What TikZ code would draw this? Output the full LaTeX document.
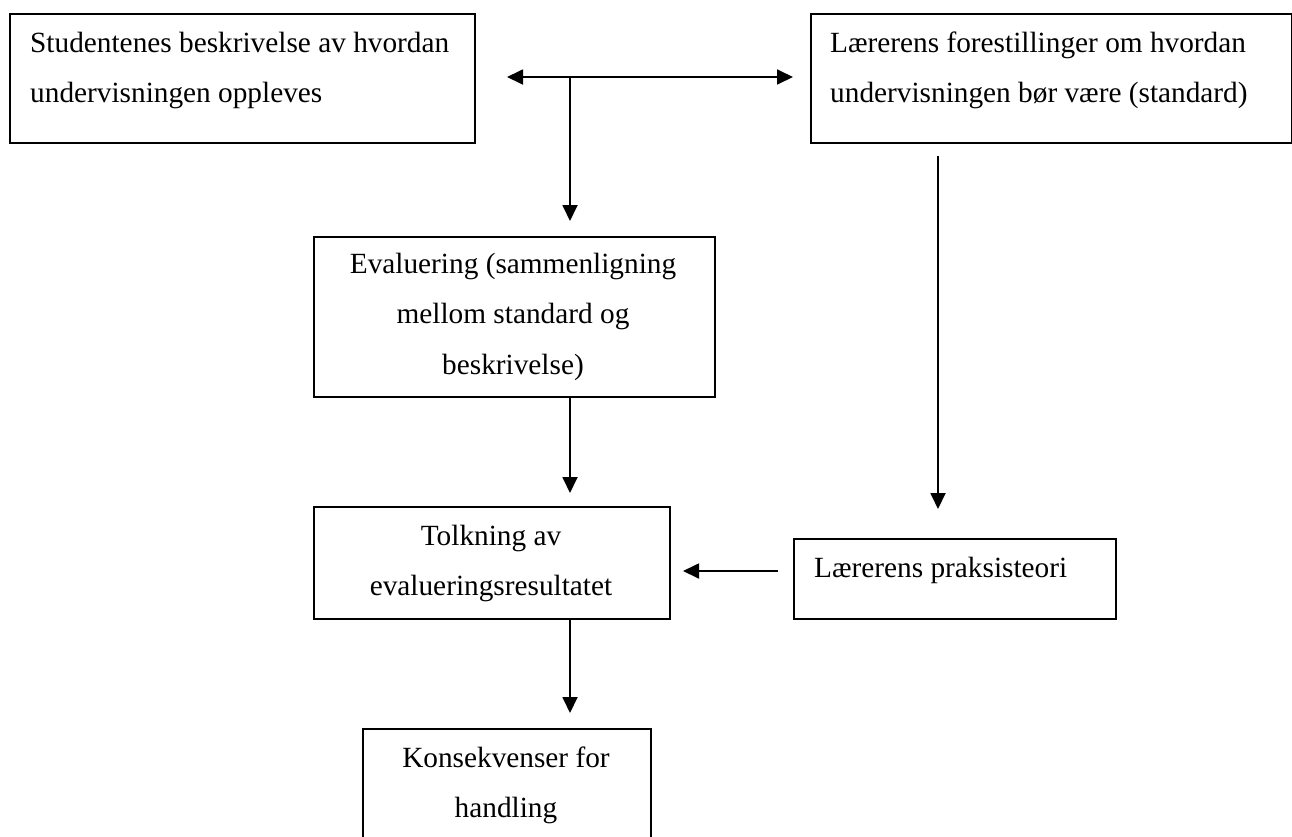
\documentclass[tikz,border=0pt]{standalone}
\usepackage{fontspec}
\setmainfont{Liberation Serif}
\usetikzlibrary{arrows.meta}
\begin{document}
\begin{tikzpicture}[x=1pt,y=-1pt,
  box/.style={draw, line width=1.8pt, rectangle, inner sep=0pt, anchor=north west},
  lbl/.style={inner sep=0pt, font=\fontsize{29.3}{50.5}\selectfont},
  arr/.style={line width=1.8pt, -{Triangle[length=16pt,width=15pt]}},
]
\fill[white] (0,0) rectangle (1292,836);
\useasboundingbox (0,0) rectangle (1292,836);
\begin{scope}
\clip (0,0) rectangle (1292,836);
% boxes
\node[box, minimum width=465pt, minimum height=129pt] (stud) at (9,13) {};
\node[box, minimum width=481pt, minimum height=129pt] (std) at (810,13) {};
\node[box, minimum width=401pt, minimum height=160pt] (eval) at (313,236) {};
\node[box, minimum width=356pt, minimum height=112pt] (tolk) at (313,506) {};
\node[box, minimum width=322pt, minimum height=80pt] (prak) at (793,538) {};
\node[box, minimum width=288pt, minimum height=130pt] (kons) at (362,728) {};
\end{scope}
% texts (anchored at the baseline of their last line)
\node[lbl, anchor=base west, align=left] (tstud) at (30,102.5)
  {Studentenes beskrivelse av hvordan\\undervisningen oppleves};
\node[lbl, anchor=base west, align=left] (tstd) at (830,102.5)
  {Lærerens forestillinger om hvordan\\undervisningen bør være (standard)};
\node[lbl, anchor=base, align=center] (teval) at (513,374)
  {Evaluering (sammenligning\\mellom standard og\\beskrivelse)};
\node[lbl, anchor=base, align=center] (ttolk) at (491,595.5)
  {Tolkning av\\evalueringsresultatet};
\node[lbl, anchor=base west, align=left] (tprak) at (814,577)
  {Lærerens praksisteori};
\node[lbl, anchor=base, align=center] (tkons) at (506,817.5)
  {Konsekvenser for\\handling};
% connector end points
\coordinate (jn) at (570,77);
\coordinate (jl) at (507,77);
\coordinate (jr) at (793,77);
\coordinate (jd) at (570,221);
\coordinate (ss) at (938,156);
\coordinate (se) at (938,509);
\coordinate (es) at (570,396);
\coordinate (ee) at (570,493);
\coordinate (ps) at (778,571);
\coordinate (pe) at (683,571);
\coordinate (ts) at (570,618);
\coordinate (te) at (570,713);
% connectors
\draw[arr] (jn) -- (jl);
\draw[arr] (jn) -- (jr);
\draw[arr] (jn) -- (jd);
\draw[arr] (ss) -- (se);
\draw[arr] (es) -- (ee);
\draw[arr] (ps) -- (pe);
\draw[arr] (ts) -- (te);
\end{tikzpicture}
\end{document}
